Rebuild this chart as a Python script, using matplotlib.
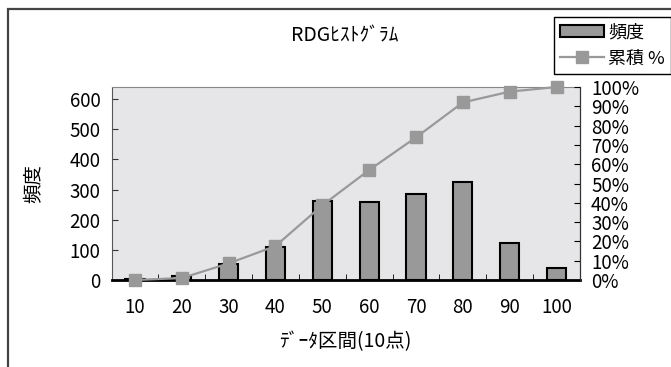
import matplotlib
matplotlib.use("Agg")
import matplotlib.pyplot as plt
from matplotlib.patches import Rectangle
from matplotlib.lines import Line2D
from matplotlib.ticker import FuncFormatter

plt.rcParams['font.family'] = ['Liberation Sans Narrow', 'Noto Sans CJK JP', 'DejaVu Sans']

# data
categories = ["10", "20", "30", "40", "50", "60", "70", "80", "90", "100"]
freq = [2, 12, 53, 110, 262, 260, 284, 324, 122, 39]
cum_pct = [0.0, 1.0, 8.6, 17.6, 38.7, 57.0, 73.9, 92.0, 97.6, 100.0]

title = "RDGﾋｽﾄｸﾞﾗﾑ"
xlabel = "ﾃﾞｰﾀ区間(10点)"
ylabel = "頻度"
legend_labels = ["頻度", "累積 %"]

bar_color = "#999999"
line_color = "#999999"

fig = plt.figure(figsize=(6.71, 3.67), dpi=100)

# outer chart frame (cut off at right and bottom)
fig.patches.append(Rectangle((8 / 671, -0.1), 1.2, 1 - 9 / 367 + 0.1,
                             transform=fig.transFigure, fill=False,
                             edgecolor="#444444", linewidth=1.6))

ax = fig.add_axes([111.5 / 671, 1 - 280 / 367, (580 - 111.5) / 671, (280 - 87) / 367])
ax.set_facecolor("#e6e6e8")

x = list(range(len(categories)))
ax.bar(x, freq, width=0.41, color=bar_color, edgecolor="black", linewidth=1.5, zorder=2)
ax.set_xlim(-0.5, len(categories) - 0.5)
ax.set_ylim(0, 640)
ax.set_yticks(range(0, 700, 100))
ax.set_xticks(x)
ax.set_xticklabels(categories, fontsize=13.5)
ax.set_xticks([i + 0.5 for i in x[:-1]], minor=True)
ax.tick_params(axis="x", which="major", length=0, pad=12)
ax.tick_params(axis="x", which="minor", direction="in", length=4, color="black")
ax.tick_params(axis="y", direction="in", length=4, labelsize=13.5, pad=8, color="#333333")

ax.spines["top"].set_color("#888888")
ax.spines["left"].set_color("#555555")
ax.spines["bottom"].set_linewidth(2)
ax.spines["bottom"].set_color("black")

ax.set_xlabel(xlabel, fontsize=14, labelpad=10)
ax.set_ylabel(ylabel, fontsize=14, labelpad=18)

ax2 = ax.twinx()
ax2.plot(x, [v / 100 for v in cum_pct], color=line_color, linewidth=1.6,
         marker="s", markersize=8, markerfacecolor=line_color,
         markeredgecolor=line_color, clip_on=False, zorder=3)
ax2.set_ylim(0, 1)
ax2.set_yticks([i / 10 for i in range(11)])
ax2.yaxis.set_major_formatter(FuncFormatter(lambda v, p: f"{int(round(v * 100))}%"))
ax2.tick_params(axis="y", direction="in", length=4, labelsize=13.5, pad=8)
ax2.spines["right"].set_color("#333333")
ax2.spines["top"].set_visible(False)
ax2.spines["left"].set_visible(False)
ax2.spines["bottom"].set_visible(False)

fig.text(345 / 671, 1 - 36 / 367, title, ha="center", va="center", fontsize=14)

handles = [Rectangle((0, 0), 1, 1, facecolor=bar_color, edgecolor="black", linewidth=1.5),
           Line2D([], [], color=line_color, linewidth=1.6, marker="s", markersize=8,
                  markerfacecolor=line_color, markeredgecolor=line_color)]
leg = fig.legend(handles, legend_labels, loc="upper left",
                 bbox_to_anchor=(554 / 671, 1 - 17 / 367), borderaxespad=0,
                 fancybox=False, edgecolor="black", framealpha=1,
                 fontsize=13, handlelength=2.4, handleheight=0.6,
                 handletextpad=0.25, labelspacing=0.45, borderpad=0.35)
leg.get_frame().set_linewidth(1.0)

fig.savefig("out.png", dpi=100)
